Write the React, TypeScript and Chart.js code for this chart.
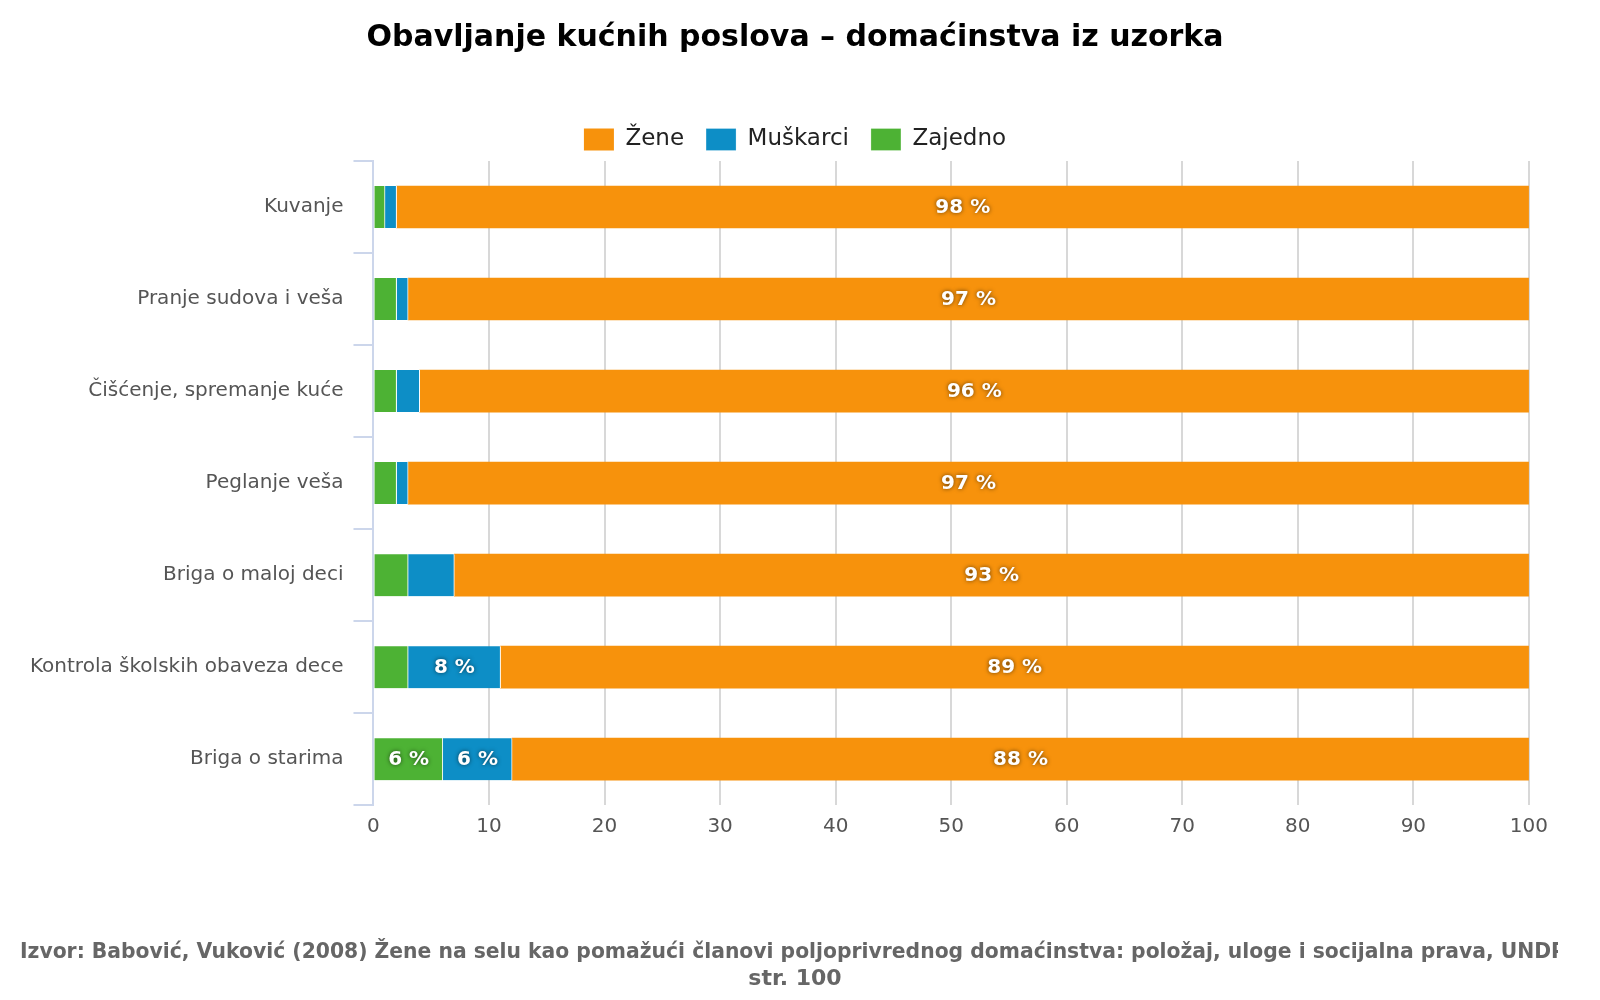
import React, { useEffect, useRef } from "react";
import { Chart, registerables } from "chart.js";
Chart.register(...registerables);

const categories = ["Kuvanje", "Pranje sudova i veša", "Čišćenje, spremanje kuće", "Peglanje veša", "Briga o maloj deci", "Kontrola školskih obaveza dece", "Briga o starima"];
const zajedno = [1, 2, 2, 2, 3, 3, 6];
const muskarci = [1, 1, 2, 1, 4, 8, 6];
const zene = [98, 97, 96, 97, 93, 89, 88];
const FONT = "'DejaVu Sans', sans-serif";

const labelPlugin = {
  id: "vals",
  afterDatasetsDraw(chart: any) {
    const ctx = chart.ctx;
    ctx.save();
    ctx.font = `bold 20px ${FONT}`;
    ctx.textAlign = "center";
    ctx.textBaseline = "middle";
    chart.data.datasets.forEach((ds: any, i: number) => {
      const meta = chart.getDatasetMeta(i);
      meta.data.forEach((el: any, j: number) => {
        const v = ds.data[j];
        if (v < 5) return;
        const x = (el.x + el.base) / 2;
        ctx.shadowColor = "rgba(0,0,0,0.6)";
        ctx.shadowBlur = 4;
        ctx.fillStyle = "#fff";
        ctx.fillText(v + " %", x, el.y + 1);
      });
    });
    ctx.restore();
  },
};

export default function App() {
  const ref = useRef<HTMLCanvasElement>(null);
  useEffect(() => {
    const chart = new Chart(ref.current!, {
      type: "bar",
      data: {
        labels: categories,
        datasets: [
          { label: "Zajedno", data: zajedno, backgroundColor: "#4db234", borderColor: "#fff", borderWidth: { right: 1 } as any, borderSkipped: false, barThickness: 42 },
          { label: "Muškarci", data: muskarci, backgroundColor: "#0d8ec6", borderColor: "#fff", borderWidth: { right: 1 } as any, borderSkipped: false, barThickness: 42 },
          { label: "Žene", data: zene, backgroundColor: "#f7920c", borderColor: "#fff", borderWidth: 0, barThickness: 42 },
        ],
      },
      options: {
        indexAxis: "y",
        animation: false,
        responsive: false,
        layout: { padding: { left: 12, right: -12, top: 10, bottom: 0 } },
        plugins: {
          title: { display: true, text: "Obavljanje kućnih poslova – domaćinstva iz uzorka", font: { family: FONT, size: 30, weight: "bold" }, color: "#000", padding: { top: 2, bottom: 50 } },
          subtitle: { display: true, position: "bottom", text: ["Izvor: Babović, Vuković (2008) Žene na selu kao pomažući članovi poljoprivrednog domaćinstva: položaj, uloge i socijalna prava, UNDP,", "str. 100"], font: { family: FONT, size: 22, weight: "bold" }, color: "#666", padding: { top: 90, bottom: 0 }, align: "center" },
          legend: {
            labels: { font: { family: FONT, size: 23 }, color: "#222", boxWidth: 30, boxHeight: 22, padding: 22, sort: (a: any, b: any) => b.datasetIndex - a.datasetIndex },
          },
          tooltip: { enabled: false },
        },
        scales: {
          x: {
            stacked: true, min: 0, max: 100,
            ticks: { stepSize: 10, font: { family: FONT, size: 20 }, color: "#555", padding: 10 },
            grid: { color: "#d8d8d8", lineWidth: 2, drawTicks: false },
            border: { display: false },
          },
          y: {
            stacked: true,
            ticks: { font: { family: FONT, size: 20 }, color: "#555", padding: 10 },
            grid: { offset: true, drawOnChartArea: false, tickLength: 20, color: "#ccd6eb", lineWidth: 2 },
            border: { display: true, color: "#ccd6eb", width: 2 },
          },
        },
      },
      plugins: [labelPlugin],
    } as any);
    return () => chart.destroy();
  }, []);
  return <canvas ref={ref} width={1550} height={984} style={{ display: "block" }} />;
}
